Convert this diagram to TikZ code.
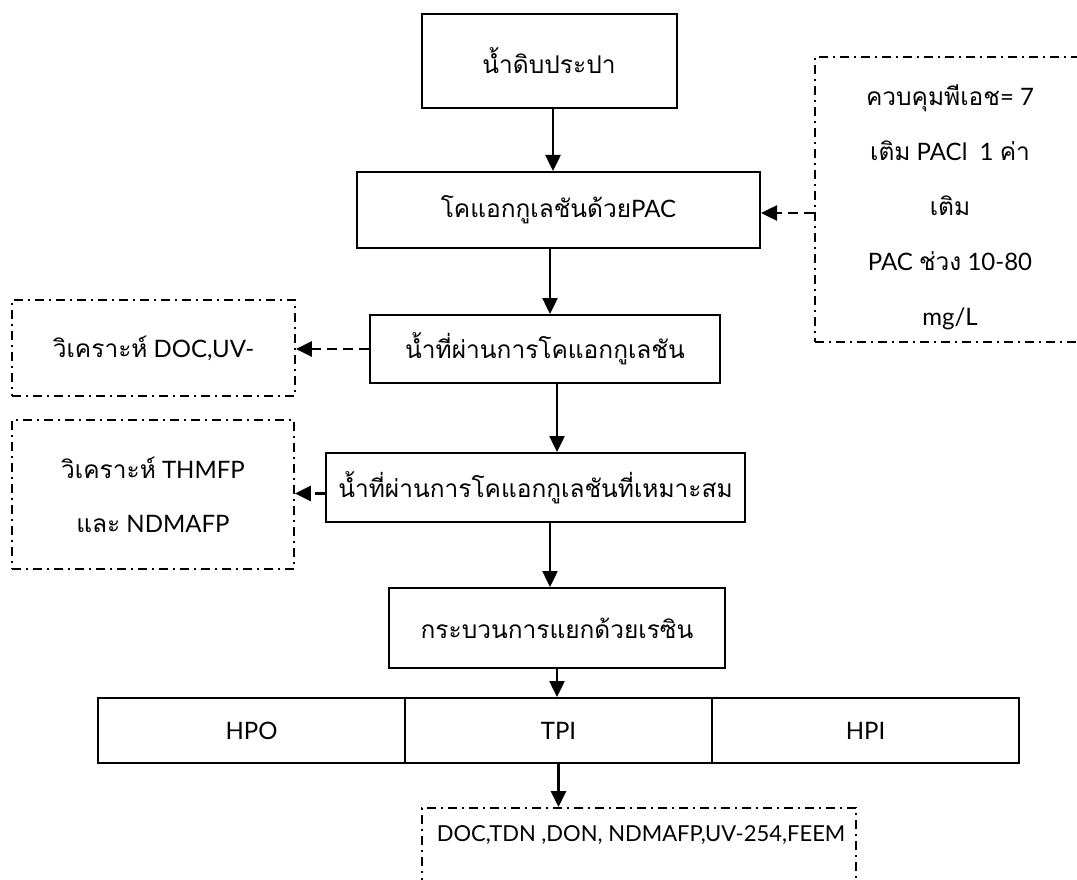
\documentclass[tikz,border=0pt]{standalone}
\usepackage{fontspec}
\setmainfont{Lato}
\newfontfamily\thfont[Script=Thai,Scale=1.02]{Loma}
\usetikzlibrary{arrows.meta}
\newcommand\T[1]{{\thfont #1}}
\begin{document}
\begin{tikzpicture}[x=1pt,y=-1pt,
  font=\fontsize{24}{30}\selectfont,
  box/.style={draw, line width=2pt, inner sep=0pt, align=center},
  dd/.style={draw, line width=1.8pt, dash pattern=on 9pt off 5pt on 2pt off 5pt, inner sep=0pt, align=center},
  arr/.style={line width=2.5pt, -{Triangle[width=15pt,length=16pt]}},
  darr/.style={arr, dash pattern=on 10pt off 6pt}]
\useasboundingbox (0,0) rectangle (1077,880);
% main boxes
\node[box, minimum width=255pt, minimum height=94pt] (b1) at (549,61) {\T{น้ำดิบประปา}};
\node[box, minimum width=403pt, minimum height=76pt] (b2) at (558.5,210) {\T{โคแอกกูเลชันด้วย}PAC};
\node[box, minimum width=350pt, minimum height=68pt] (b3) at (545,349) {\T{น้ำที่ผ่านการโคแอกกูเลชัน}};
\node[box, minimum width=419pt, minimum height=69pt] (b4) at (535.5,487.5) {\T{น้ำที่ผ่านการโคแอกกูเลชันที่เหมาะสม}};
\node[box, minimum width=336pt, minimum height=80pt] (b5) at (557,628) {\T{กระบวนการแยกด้วยเรซิน}};
\node[box, minimum width=307pt, minimum height=65pt] (hpo) at (251.5,730.5) {HPO};
\node[box, minimum width=307pt, minimum height=65pt] (tpi) at (558.5,730.5) {TPI};
\node[box, minimum width=307pt, minimum height=65pt] (hpi) at (865.5,730.5) {HPI};
% dash-dot boxes
\node[dd, minimum width=305pt, minimum height=285pt] (rbox) at (967.5,199.5) {};
\node[align=center, font=\fontsize{24}{55}\selectfont] (rtext) at (950,207)
  {\T{ควบคุมพีเอช}= 7\\ \T{เติม} PACl\ \ 1 \T{ค่า}\\ \T{เติม}\\ PAC \T{ช่วง} 10-80\\ mg/L};
\node[dd, minimum width=283pt, minimum height=96pt] (lb1) at (153.5,348) {\T{วิเคราะห์} DOC,UV-};
\node[dd, minimum width=282pt, minimum height=149pt, font=\fontsize{24}{54}\selectfont] (lb2) at (153,494.5)
  {\T{วิเคราะห์} THMFP\\ \T{และ} NDMAFP};
\node[dd, minimum width=434pt, minimum height=112pt] (bb) at (639,864) {};
\node[font=\fontsize{22}{28}\selectfont] (bt) at (641,835) {DOC,TDN ,DON, NDMAFP,UV-254,FEEM};
% arrows
\draw[arr] ([xshift=4pt]b1.south) -- ([xshift=4pt]b1.south |- b2.north);
\draw[arr] ([xshift=-8.5pt]b2.south) -- ([xshift=-8.5pt]b2.south |- b3.north);
\draw[arr] ([xshift=12pt]b3.south) -- ([xshift=12pt]b3.south |- b4.north);
\draw[arr] ([xshift=14.5pt]b4.south) -- ([xshift=14.5pt]b4.south |- b5.north);
\draw[arr] (b5.south) -- (b5.south |- tpi.north);
\draw[arr] (tpi.south) -- (tpi.south |- bb.north);
\draw[darr] ([yshift=-3pt]b2.east -| rbox.west) -- ([yshift=-3pt]b2.east);
\draw[darr] (b3.west) -- (b3.west -| lb1.east);
\draw[darr] ([yshift=-6pt]b4.west) -- ([yshift=-6pt]b4.west -| lb2.east);
\end{tikzpicture}
\end{document}
